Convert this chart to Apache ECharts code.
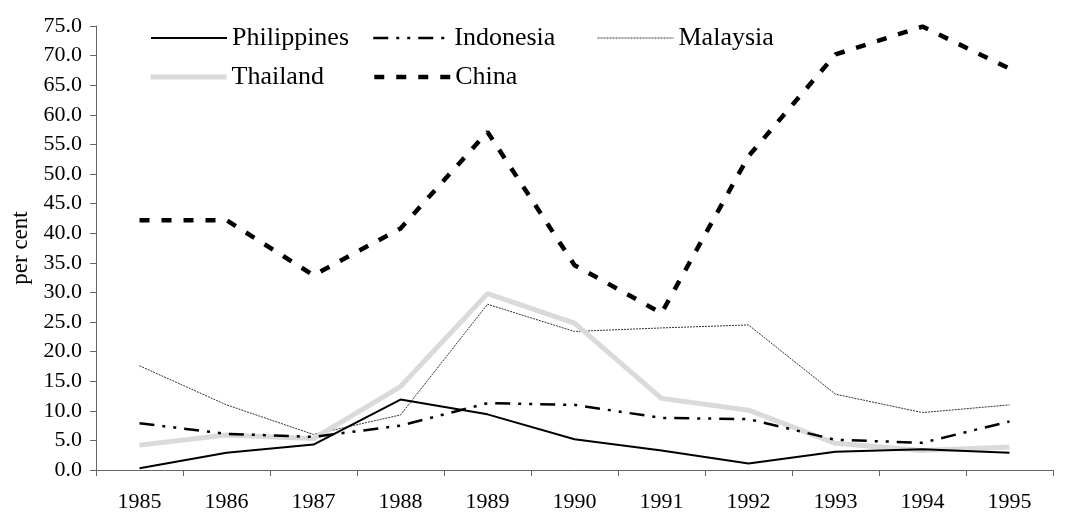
<!DOCTYPE html>
<html>
<head>
<meta charset="utf-8">
<script src="https://cdn.jsdelivr.net/npm/echarts@6/dist/echarts.min.js"></script>
<style>
  html, body { margin: 0; padding: 0; background: #fff; }
  #chart { width: 1068px; height: 512px; }
</style>
</head>
<body>
<div id="chart"></div>
<script>
// years on the x axis
const years = ['1985', '1986', '1987', '1988', '1989', '1990', '1991', '1992', '1993', '1994', '1995']

// per cent values
const philippines = [0.3, 2.9, 4.3, 11.9, 9.4, 5.2, 3.3, 1.1, 3.1, 3.5, 2.9]
const indonesia = [7.9, 6.1, 5.6, 7.5, 11.3, 11.0, 8.8, 8.6, 5.1, 4.6, 8.2]
const malaysia = [17.6, 11.0, 6.0, 9.3, 28.0, 23.4, 24.0, 24.5, 12.8, 9.7, 11.0]
const thailand = [4.2, 5.9, 5.3, 14.1, 29.8, 24.8, 12.1, 10.1, 4.5, 3.3, 3.9]
const china = [42.2, 42.2, 32.9, 40.8, 57.1, 34.6, 26.5, 53.0, 70.2, 74.9, 67.8]

const font = 'Liberation Serif, Times New Roman, serif'

// line looks, shared by series and legend
const styles = {
  Philippines: { color: '#000', width: 2 },
  Indonesia: { color: '#000', width: 2.5, type: [15, 8, 3, 8, 3, 8] },
  Malaysia: { color: '#333', width: 1, type: [2, 1] },
  Thailand: { color: '#dadada', width: 5 },
  China: { color: '#000', width: 4.5, type: [10, 12] }
}

const chart = echarts.init(document.getElementById('chart'))

// one legend per item so each sits where the original puts it
function legendAt(name, left, top) {
  return {
    data: [name],
    left: left,
    top: top,
    padding: 0,
    itemWidth: 76,
    itemHeight: 14,
    itemGap: 0,
    selectedMode: false,
    itemStyle: { opacity: 0 },
    lineStyle: Object.assign({}, styles[name]),
    textStyle: { fontFamily: font, fontSize: 26, color: '#000' }
  }
}

function lineSeries(name, data, z) {
  return { name: name, type: 'line', data: data, symbol: 'none', z: z, lineStyle: styles[name] }
}

const option = {
  animation: false,
  backgroundColor: '#fff',
  textStyle: { fontFamily: font },
  legend: [
    legendAt('Philippines', 150, 25),
    legendAt('Indonesia', 372, 25),
    legendAt('Malaysia', 597, 25),
    legendAt('Thailand', 148, 64),
    legendAt('China', 372, 64)
  ],
  grid: { left: 96, right: 15, top: 26, bottom: 42, containLabel: false, outerBoundsMode: 'none' },
  xAxis: {
    type: 'category',
    data: years,
    boundaryGap: true,
    axisLine: { lineStyle: { color: '#666', width: 1 } },
    axisTick: { show: true, length: 6, lineStyle: { color: '#666' } },
    axisLabel: { color: '#000', fontSize: 22, fontFamily: font, margin: 21 }
  },
  yAxis: {
    type: 'value',
    min: 0,
    max: 75,
    interval: 5,
    name: 'per cent',
    nameLocation: 'middle',
    nameRotate: 90,
    nameGap: 59,
    nameTextStyle: { color: '#000', fontSize: 23, fontFamily: font },
    axisLine: { show: true, lineStyle: { color: '#666', width: 1 } },
    axisTick: { show: true, length: 6, inside: false, lineStyle: { color: '#666' } },
    splitLine: { show: false },
    axisLabel: {
      color: '#000', fontSize: 22, fontFamily: font, margin: 14,
      formatter: v => v.toFixed(1)
    }
  },
  series: [
    lineSeries('Malaysia', malaysia, 2),
    lineSeries('Thailand', thailand, 3),
    lineSeries('Indonesia', indonesia, 4),
    lineSeries('Philippines', philippines, 5),
    lineSeries('China', china, 6)
  ]
}

chart.setOption(option)
</script>
</body>
</html>
